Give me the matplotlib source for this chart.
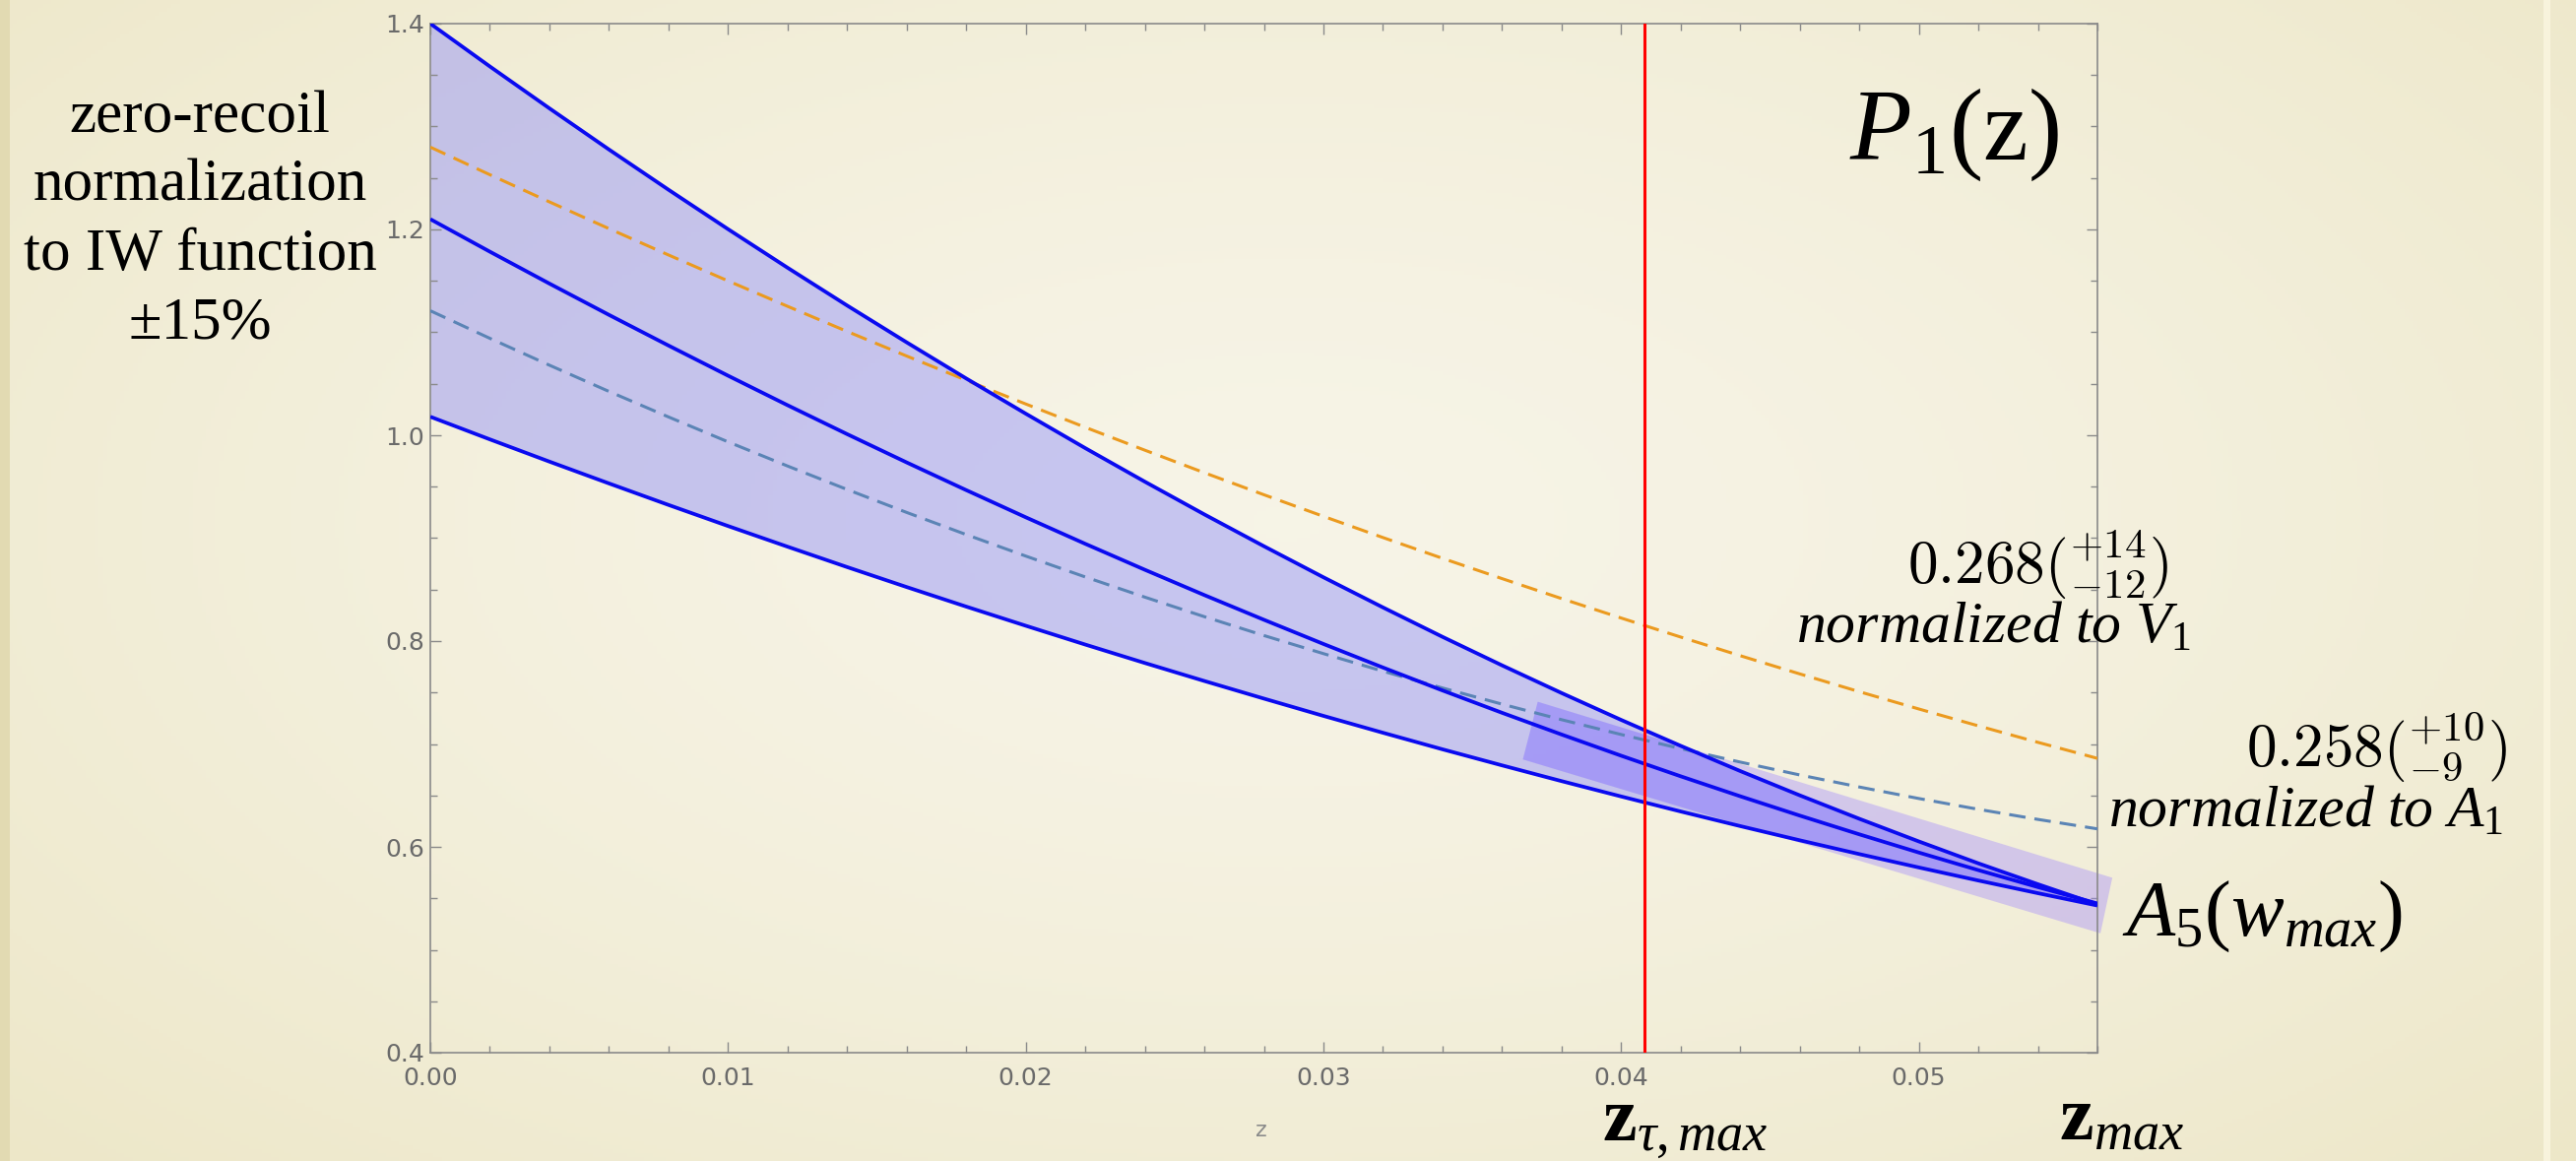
import numpy as np
import matplotlib.pyplot as plt
from matplotlib.patches import Polygon, Rectangle
from matplotlib.ticker import MultipleLocator, FormatStrFormatter

plt.rcParams["mathtext.fontset"] = "custom"
plt.rcParams["mathtext.rm"] = "Liberation Serif"
plt.rcParams["mathtext.it"] = "Liberation Serif:italic"
plt.rcParams["mathtext.bf"] = "Liberation Serif:bold"

# values (every 0.002 in z)
z = [0.000, 0.002, 0.004, 0.006, 0.008, 0.010, 0.012, 0.014, 0.016, 0.018,
     0.020, 0.022, 0.024, 0.026, 0.028, 0.030, 0.032, 0.034, 0.036, 0.038,
     0.040, 0.042, 0.044, 0.046, 0.048, 0.050, 0.052, 0.054, 0.056]
p1_upper = [1.4000, 1.3584, 1.3177, 1.2777, 1.2386, 1.2003, 1.1628, 1.1261,
            1.0903, 1.0552, 1.0210, 0.9875, 0.9549, 0.9231, 0.8922, 0.8620,
            0.8327, 0.8041, 0.7764, 0.7495, 0.7234, 0.6982, 0.6737, 0.6501,
            0.6273, 0.6053, 0.5840, 0.5637, 0.5440]
p1_central = [1.2100, 1.1784, 1.1474, 1.1170, 1.0872, 1.0579, 1.0292, 1.0011,
              0.9736, 0.9467, 0.9203, 0.8945, 0.8693, 0.8447, 0.8207, 0.7972,
              0.7743, 0.7520, 0.7303, 0.7092, 0.6886, 0.6686, 0.6492, 0.6304,
              0.6122, 0.5945, 0.5774, 0.5609, 0.5450]
p1_lower = [1.0180, 0.9960, 0.9744, 0.9532, 0.9323, 0.9118, 0.8917, 0.8719,
            0.8525, 0.8335, 0.8149, 0.7966, 0.7787, 0.7612, 0.7441, 0.7273,
            0.7109, 0.6948, 0.6792, 0.6639, 0.6490, 0.6344, 0.6202, 0.6064,
            0.5930, 0.5800, 0.5673, 0.5550, 0.5430]
norm_V1 = [1.2800, 1.2532, 1.2268, 1.2008, 1.1752, 1.1500, 1.1253, 1.1009,
           1.0770, 1.0535, 1.0304, 1.0077, 0.9855, 0.9636, 0.9422, 0.9212,
           0.9006, 0.8804, 0.8607, 0.8413, 0.8224, 0.8039, 0.7858, 0.7681,
           0.7508, 0.7340, 0.7176, 0.7016, 0.6860]
norm_A1 = [1.1210, 1.0942, 1.0681, 1.0426, 1.0178, 0.9936, 0.9701, 0.9473,
           0.9250, 0.9035, 0.8826, 0.8623, 0.8427, 0.8237, 0.8054, 0.7878,
           0.7707, 0.7544, 0.7387, 0.7236, 0.7092, 0.6955, 0.6824, 0.6699,
           0.6582, 0.6470, 0.6365, 0.6267, 0.6175]

# A5(w_max) constraint box (corners)
a5_box_z = [0.0372, 0.0565, 0.0561, 0.0367]
a5_box_y = [0.741, 0.570, 0.516, 0.685]

z_tau_max = 0.0408
z_max = 0.056

W, H = 2616, 1179
fig = plt.figure(figsize=(W / 100, H / 100), dpi=100)

# slide background: beige with a soft vignette
bg = fig.add_axes([0, 0, 1, 1], zorder=-10)
yy, xx = np.mgrid[0:1:300j, 0:1:600j]
r = np.sqrt(((xx - 0.5) / 0.75) ** 2 + ((yy - 0.45) / 0.85) ** 2)
c0 = np.array([0.967, 0.957, 0.905])
c1 = np.array([0.925, 0.900, 0.770])
t = np.clip(r, 0, 1)[..., None] ** 1.5
bg.imshow(c0 * (1 - t) + c1 * t, aspect="auto", extent=[0, 1, 0, 1])
bg.add_patch(Rectangle((0, 0), 0.004, 1, color="#e2dab2", lw=0))
bg.add_patch(Rectangle((0.9874, 0), 0.0027, 1, color="#f8f3dc", lw=0))
bg.set_xlim(0, 1)
bg.set_ylim(0, 1)
bg.axis("off")

ax = fig.add_axes([437 / W, 1 - 1069 / H, (2130 - 437) / W, (1069 - 24) / H])
ax.set_facecolor("none")

band = ax.fill_between(z, p1_lower, p1_upper, color=(0.5, 0.5, 1.0),
                       alpha=0.4, lw=0, zorder=1)
box = Polygon(np.c_[a5_box_z, a5_box_y], closed=True, color=(0.62, 0.52, 1.0),
              alpha=0.38, lw=0, zorder=2, clip_on=False)
ax.add_patch(box)
# darker where the box overlaps the band
box2 = Polygon(np.c_[a5_box_z, a5_box_y], closed=True, color=(0.45, 0.4, 1.0),
               alpha=0.24, lw=0, zorder=2)
ax.add_patch(box2)
box2.set_clip_path(band.get_paths()[0], ax.transData)

ax.plot(z, norm_V1, color="#eb9a1f", lw=2.2, dashes=(5.5, 3), zorder=3)
ax.plot(z, norm_A1, color="#5b84b5", lw=2.2, dashes=(5.5, 3), zorder=3)
for curve in (p1_upper, p1_central, p1_lower):
    ax.plot(z, curve, color="#0a0af0", lw=2.7, zorder=4, solid_capstyle="butt")
ax.axvline(z_tau_max, color="red", lw=2.2, zorder=5)

ax.set_xlim(0, z_max)
ax.set_ylim(0.4, 1.4)
ax.xaxis.set_major_locator(MultipleLocator(0.01))
ax.xaxis.set_minor_locator(MultipleLocator(0.002))
ax.yaxis.set_major_locator(MultipleLocator(0.2))
ax.yaxis.set_minor_locator(MultipleLocator(0.05))
ax.xaxis.set_major_formatter(FormatStrFormatter("%.2f"))
ax.yaxis.set_major_formatter(FormatStrFormatter("%.1f"))
ax.tick_params(which="both", direction="in", top=True, right=True,
               color="#8a8a8a", width=1.0, labelcolor="#6a6a6a", labelsize=18)
ax.tick_params(which="major", length=8)
ax.tick_params(which="minor", length=5)
ax.tick_params(axis="x", pad=10)
ax.tick_params(axis="y", pad=4)
for s in ax.spines.values():
    s.set_color("#8a8a8a")
    s.set_linewidth(1.2)

fig.text(1281 / W, 1 - 1148 / H, "z", color="#8a8a8a", fontsize=16,
         ha="center", va="center")

serif = "Liberation Serif"
fig.text(203 / W, 1 - 224 / H, "zero-recoil\nnormalization\nto IW function\n±15%",
         family=serif, fontsize=44, ha="center", va="center",
         linespacing=1.33)
fig.text(1985 / W, 1 - 136 / H, r"$P_1(\mathrm{z})$", fontsize=74,
         ha="center", va="center")

fig.text(2202 / W, 1 - 593 / H, r"$0.268(^{+14}_{-12})$", fontsize=44,
         ha="right", va="baseline", math_fontfamily="cm")
fig.text(1824 / W, 1 - 653 / H, r"$normalized\ to\ V_1$", fontsize=43,
         ha="left", va="baseline")
fig.text(2546 / W, 1 - 778 / H, r"$0.258(^{+10}_{-9})$", fontsize=44,
         ha="right", va="baseline", math_fontfamily="cm")
fig.text(2141 / W, 1 - 840 / H, r"$normalized\ to\ A_1$", fontsize=43,
         ha="left", va="baseline")
fig.text(2155 / W, 1 - 950 / H, r"$A_5(w_{max})$", fontsize=58,
         ha="left", va="baseline")

fig.text(1627 / W, 1 - 1158 / H, r"$\mathbf{z}_{\tau,max}$", fontsize=56,
         ha="left", va="baseline")
fig.text(2091 / W, 1 - 1158 / H, r"$\mathbf{z}_{max}$", fontsize=56,
         ha="left", va="baseline")

fig.savefig("out.png", dpi=100)
